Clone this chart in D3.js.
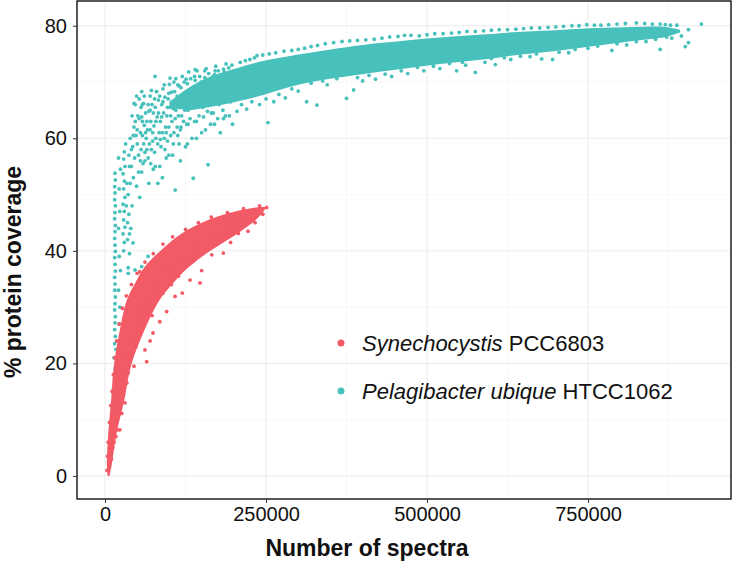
<!DOCTYPE html>
<meta charset="utf-8">
<style>
	body { margin: 0; background: #ffffff; }
	.vis-coverage text { font-family: "Liberation Sans", Arial, sans-serif; fill: #111111; }
	.grid-major { stroke: #ebebeb; stroke-width: 1; }
	.grid-minor { stroke: #f5f5f5; stroke-width: 0.7; }
	.axis text { font-size: 20px; }
	.axis line { stroke: #333333; }
	.axis path { display: none; }
	.axis-title { font-size: 23px; font-weight: 700; text-anchor: middle; }
	.legend-label { font-size: 22px; }
</style>

<div class="vis-coverage"></div>

<script src="https://d3js.org/d3.v7.min.js"></script>
<script>

// ---- //
// Data //
// ---- //
// spectra are given in thousands, coverage in %

let xTicks = [0, 250000, 500000, 750000];
let xMinor = [125000, 375000, 625000, 875000];
let yTicks = [0, 20, 40, 60, 80];
let yMinor = [10, 30, 50, 70];

let seriesNames = ["Synechocystis", "Pelagibacter ubique"];
let seriesStrains = ["PCC6803", "HTCC1062"];
let seriesColors = ["#f25a66", "#48c1bc"];

// Synechocystis: solid part of the cloud, read as left / right edge per coverage level
let synBandY     = [0, 1.7, 7.6, 13.5, 19.4, 25.3, 31.3, 34.3, 37.2, 40.2, 43.1, 45.5, 47.0, 47.8];
let synBandLeft  = [4, 3, 5, 9.5, 13.5, 22, 34, 47, 62, 88, 119, 160, 202, 240];
let synBandRight = [7, 10, 18, 30, 40, 59, 85, 106, 131, 166, 206, 234, 246, 251];

// Synechocystis: loose points round the edge
let synPoints = [
	[3,1],[4,3.5],[5,6],[7,9.5],[9,12.5],[11,15],[13,18],[15,21],[18,24],[22,27],[27,29.8],
	[33,32],[41,34],[50,36],[54,36.3],[62,38],[75,39.5],[90,41.2],[105,42.5],[125,43.8],
	[145,45],[165,46],[190,46.8],[215,47.5],[240,48],
	[10,3],[14,6],[20,8.2],[23,8.2],[26,11.1],[26,13.5],[28.5,15.9],[34,16.5],[36,18.3],
	[45,19.5],[62,22.4],[64.7,20.3],[74.5,25.4],[70,24],[85,27.4],[95.7,29.2],[108.7,31.9],
	[120,32.5],[132,34.8],[147.5,34.3],[150,36.5],[165.7,39.3],[183.7,39.6],[195,41.5],
	[207,43.1],[222,43.5],[233,45],[245,46.5],[251,47.7],[16,10],[19,14],[30,21],[40,24.5],
	[52,28],[66,31],[80,33.5],[100,36.5],[118,38.5],[140,40.8],[170,43],[200,45],[228,46.8],
	[12,5],[17,7],[22,11],[31,13],[38,21.5],[48,23],[57,26],[60,29],[73,28.5],[78,31],
	[90,32.5],[103,34],[114,35.5],[126,37.5],[137,38.2],[155,40],[176,41.8],[190,43.5],[212,45.3],[238,47]
];

// Pelagibacter: solid part of the cloud, lower / upper edge per spectra level
let pelBandX  = [100, 130, 160, 200, 240, 300, 350, 400, 460, 520, 580, 640, 700, 760, 820, 870, 893];
let pelBandLo = [65.5, 65.0, 65.5, 66.4, 67.5, 69.5, 70.6, 71.4, 72.3, 73.2, 73.9, 74.8, 75.5, 76.4, 77.3, 78.0, 78.8];
let pelBandHi = [66.5, 69.0, 70.8, 72.3, 73.6, 74.9, 75.8, 76.6, 77.3, 77.9, 78.4, 78.9, 79.2, 79.6, 79.8, 79.8, 79.3];

// Pelagibacter: scattered points (steep rise at low spectra, fringe of the band)
let pelPoints = [
	[15,23.5],[16,24.8],[15,26],[15.5,27.2],[16,28.3],[15,29.5],[15.5,30.6],[16,31.8],[15,33],
	[15.5,34.1],[15,35.3],[16,36.4],[15.5,37.6],[15,38.8],[16,39.9],[15.5,41],[15,42.2],
	[15.5,43.4],[16,44.5],[15,45.7],[15.5,46.8],[16,48],[15,49.1],[15.5,50.3],[15,51.4],
	[16,52.6],[15.5,53.8],[12,9],[14,12],[13,15.5],[15,17],[16,19],[14,21],[17,22.5],
	[29,40],[30,41.5],[28,43],[31,44.2],[29,45.5],[30,47],[28,48.3],[31,49.5],[29,51],
	[30,52.4],[28,53.7],[31,55],[29,56.3],[30,57.6],[32,59],
	[22,27],[23,30],[21,33],[24,36.5],[22,39],[21,44],[23,47],[22,51],[24,54.5],[21,56.5],
	[36,37],[38,39.5],[35,42],[40,44],[37,46.5],[42,48],[36,50],[39,52],[44,53],[41,55],
	[37,57],[46,56.5],[43,58.5],[39,60],[48,60.5],[45,62],[50,59],[52,57],[55,61],[58,63],
	[51,64],[56,65.5],[47,66],[53,67],[60,59],[62,56],[57,54],[49,51.5],[54,49.5],
	[43.5,41.4],[66.8,39],[57,37.2],[46.6,36.6],[36,36],
	[56,58],[58,60.5],[61,62.3],[57,63.8],[63,64.5],[60,66.2],[64,60],[62,57.5],[59,55.5],
	[67,56.5],[69,59],[66,61.5],[71,63],[68,64.8],[73,66],[70,67.5],[74,61],[72,58],[75,54.5],[68,52],
	[77,57.5],[79,60],[76,62.2],[81,63.8],[78,65.5],[83,66.8],[80,68.3],[84,61],[82,59],[85,55],
	[87,58.5],[89,61],[86,63],[91,64.5],[88,66],[93,67.3],[90,68.8],[94,62],[92,60],[95,56.5],[89,53],
	[97,59.5],[99,62],[96,64],[101,65.5],[98,67],[103,68.2],[100,69.6],[104,63],[102,60.5],[105,57],[109,50.8],
	[107,61],[109,63.5],[106,65.3],[111,66.8],[108,68.3],[113,69.5],[110,70.6],[114,64],[112,62],[115,59],
	[117,61.5],[119,64],[116,66.3],[121,67.5],[118,69],[123,70],[120,71],[124,65],[122,63],[125,58.5],
	[127,62.5],[129,65],[126,67],[131,68.3],[128,69.7],[133,70.6],[130,71.8],[134,66],[132,63.5],[137,52.9],[135,60],
	[139,63],[142,65.7],[138,67.5],[144,69],[140,70.3],[147,71],[143,72],[148,66.5],[146,64],[150,61],
	[153,63.8],[156,66],[152,68],[158,69.5],[155,70.8],[161,71.5],[157,72.4],[162,67],[160,55.3],[164,62.5],[159,64.8],
	[168,64.5],[171,67],[167,68.8],[173,70],[170,71.3],[176,72],[172,72.8],[177,66],[175,63.5],[179,61],
	[183,65],[186,67.5],[182,69.2],[189,70.5],[185,71.8],[192,72.5],[188,73.2],[195,66.5],[193,64],[198,62.5],
	[101,70.7],[140,72.2],[57,68.3],[80,68.3],[77.6,71],
	[41,58],[44,60.5],[47,63],[50,61.5],[53,63.5],[42,64],[45,66.2],[49,67.5],[52,54],[55,56],
	[38,55],[34,52],[33,48],[35,45],[38,43],
	[58,66],[61,67.5],[65,63],[67,66],[70,65],[72,68.5],[75,64.5],[77,67],[79,63],[63,61],
	[65,58],[70,61.5],[74,59.5],[78,55],[82,52],[71,55.5],
	[83,64.5],[85,67.5],[88,63.8],[90,66.5],[92,69.5],[95,61],[97,65.5],[99,68],[102,64],
	[104,66.5],[107,70],[110,65],[112,67.5],[115,69.3],[118,62],[120,66.2],[86,59.8],[93,58],
	[99,57],[106,59],[113,60.5],[117,56],
	[123,68],[126,70.5],[129,62.5],[132,66.5],[136,68.8],[139,71],[142,63],[145,67.5],[149,70],
	[152,65.5],[155,72],[158,67.5],[162,69.8],[165,64.5],[168,71],[171,72],[174,68],[178,70],
	[181,67],[184,72.3],[187,64],[190,68.5],[194,71],[197,73],[200,69],[128,59],[142,60],
	[156,61.5],[170,62.5],[184,63.5],
	[210,73.5],[225,74],[236,74.7],[245,74.8],[265,75.2],[290,75.6],[310,76],[330,76.5],[355,77],
	[380,77.3],[405,77.5],[430,77.8],[455,78.1],[475,78.3],[500,78.4],[525,78.6],[550,78.8],
	[575,79],[600,79.2],[625,79.3],[650,79.5],[675,79.6],[700,79.8],[725,80],[748,80.2],
	[770,80.1],[795,80.3],[825,80.5],[850,80.3],[870,80.2],[888,80.1],[926,80.3],
	[218,73.8],[232,74.3],[255,75],[278,75.5],[300,75.8],[320,76.3],[342,76.8],[368,77.2],
	[392,77.4],[418,77.6],[442,78],[465,78.3],[488,78.2],[512,78.6],[538,78.7],[562,79],
	[588,79.1],[612,79.3],[638,79.4],[662,79.6],[688,79.7],[712,79.9],[736,80],[760,80.1],
	[782,80.2],[808,80.4],[838,80.4],[862,80.3],[878,80.1],
	[205,64.8],[220,65.2],[240,66],[253,62.8],[262,66.5],[280,67.2],[300,68.4],[313,66.5],
	[329,65.9],[345,69.5],[375,67.1],[386,68.6],[400,70.2],[420,70.5],[445,71],[470,71.5],
	[495,72],[520,72.4],[546,72],[560,73],[575,71.7],[590,73.5],[606,73.1],[630,74],[660,74.5],
	[678,74.1],[695,74],[720,75.2],[750,76],[787,75.6],[810,76.6],[840,77.2],[862,75.8],
	[880,77.8],[901,76.3],[906,77],[906,79.3],[895,78.2],
	[212,66],[228,66.5],[250,67],[270,67.8],[290,68.8],[320,69.8],[338,70.2],[360,70.6],
	[392,70.8],[410,71.2],[435,71.4],[460,72],[485,72.6],[510,72.8],[535,73.3],[555,73.5],
	[600,74.2],[620,74.3],[645,74.6],[670,75],[705,75.3],[730,75.8],[765,76.4],[795,76.8],
	[825,77.2],[855,77.6],[872,78]
];

// ----- //
// Setup //
// ----- //

let width = 733, height = 564;
let panel = { left: 77, right: 731, top: 1, bottom: 499 };
let dotR = 1.9;

let x = d3.scaleLinear().domain([-43500, 972000]).range([panel.left, panel.right]);
let y = d3.scaleLinear().domain([-4.1, 84.4]).range([panel.bottom, panel.top]);

let svg = d3.select(".vis-coverage")
	.append("svg")
		.attr("width", width)
		.attr("height", height);

// panel background + grid
svg.append("rect")
	.attr("x", panel.left).attr("y", panel.top)
	.attr("width", panel.right - panel.left).attr("height", panel.bottom - panel.top)
	.attr("fill", "#ffffff");

let grid = svg.append("g");
grid.selectAll(".gx-minor").data(xMinor).enter().append("line")
	.attr("class", "grid-minor")
	.attr("x1", d => x(d)).attr("x2", d => x(d))
	.attr("y1", panel.top).attr("y2", panel.bottom);
grid.selectAll(".gy-minor").data(yMinor).enter().append("line")
	.attr("class", "grid-minor")
	.attr("y1", d => y(d)).attr("y2", d => y(d))
	.attr("x1", panel.left).attr("x2", panel.right);
grid.selectAll(".gx-major").data(xTicks).enter().append("line")
	.attr("class", "grid-major")
	.attr("x1", d => x(d)).attr("x2", d => x(d))
	.attr("y1", panel.top).attr("y2", panel.bottom);
grid.selectAll(".gy-major").data(yTicks).enter().append("line")
	.attr("class", "grid-major")
	.attr("y1", d => y(d)).attr("y2", d => y(d))
	.attr("x1", panel.left).attr("x2", panel.right);

// ------ //
// Points //
// ------ //

let plot = svg.append("g");

// Pelagibacter first
plot.append("path")
	.datum(d3.range(pelBandX.length))
	.attr("fill", seriesColors[1])
	.attr("d", d3.area()
		.x(i => x(pelBandX[i] * 1000))
		.y0(i => y(pelBandLo[i]))
		.y1(i => y(pelBandHi[i]))
		.curve(d3.curveCatmullRom));

plot.selectAll(".dot-pel")
	.data(pelPoints)
	.enter().append("circle")
	.attr("cx", d => x(d[0] * 1000))
	.attr("cy", d => y(d[1]))
	.attr("r", dotR)
	.attr("fill", seriesColors[1]);

// Synechocystis on top
plot.append("path")
	.datum(d3.range(synBandY.length))
	.attr("fill", seriesColors[0])
	.attr("d", d3.area()
		.y(i => y(synBandY[i]))
		.x0(i => x(synBandLeft[i] * 1000))
		.x1(i => x(synBandRight[i] * 1000))
		.curve(d3.curveCatmullRom));

plot.selectAll(".dot-syn")
	.data(synPoints)
	.enter().append("circle")
	.attr("cx", d => x(d[0] * 1000))
	.attr("cy", d => y(d[1]))
	.attr("r", dotR)
	.attr("fill", seriesColors[0]);

// panel border
svg.append("rect")
	.attr("x", panel.left).attr("y", panel.top)
	.attr("width", panel.right - panel.left).attr("height", panel.bottom - panel.top)
	.attr("fill", "none")
	.attr("stroke", "#222222")
	.attr("stroke-width", 1.5);

// ---- //
// Axes //
// ---- //

svg.append("g")
	.attr("class", "axis")
	.attr("transform", "translate(0," + panel.bottom + ")")
	.call(d3.axisBottom(x).tickValues(xTicks).tickSize(4).tickPadding(4).tickFormat(d3.format("d")));

svg.append("g")
	.attr("class", "axis")
	.attr("transform", "translate(" + panel.left + ",0)")
	.call(d3.axisLeft(y).tickValues(yTicks).tickSize(4).tickPadding(6));

svg.selectAll(".axis text").attr("fill", "#111111");

// titles
svg.append("text")
	.attr("class", "axis-title")
	.attr("x", 367)
	.attr("y", 556)
	.text("Number of spectra");

svg.append("text")
	.attr("class", "axis-title")
	.attr("transform", "translate(21,272) rotate(-90)")
	.text("% protein coverage");

// ------ //
// Legend //
// ------ //

let legend = svg.append("g");
seriesNames.forEach((name, i) => {
	let ly = 343 + i * 48;
	legend.append("circle")
		.attr("cx", 341).attr("cy", ly)
		.attr("r", 3.5)
		.attr("fill", seriesColors[i]);
	let t = legend.append("text")
		.attr("class", "legend-label")
		.attr("x", 362)
		.attr("y", ly + 7.5);
	t.append("tspan").style("font-style", "italic").text(name);
	t.append("tspan").text(" " + seriesStrains[i]);
});

</script>
